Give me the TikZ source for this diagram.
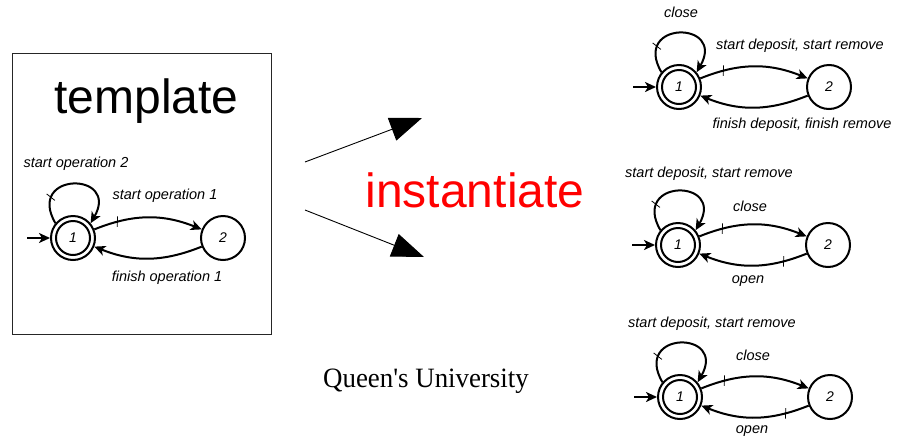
\documentclass[tikz,border=0pt]{standalone}
\usepackage{fontspec}
\newfontfamily\labelfont{Liberation Sans}
\newfontfamily\titlefont{Liberation Serif}
\usetikzlibrary{arrows.meta,decorations.markings}

\tikzset{
  state/.style={circle,draw,line width=2pt,minimum size=44pt,inner sep=0pt,
    font=\labelfont\itshape\fontsize{14}{14}\selectfont},
  edge/.style={line width=2pt,-{Stealth[length=11pt,width=10pt,inset=3pt]}},
  tick/.style={postaction={decorate},decoration={markings,
    mark=at position #1 with {\draw[-,line width=0.8pt] (-1.5pt,-5pt) -- (1.5pt,5pt);}}},
  evlabel/.style={font=\labelfont\itshape\fontsize{14.5}{16}\selectfont,inner sep=0pt,
    text height=10.5pt,text depth=3pt},
  bigarrow/.style={line width=0.9pt,-{Triangle[length=32pt,width=24pt]}},
  frame/.style={draw=black!85,line width=1pt},
}

% two-state automaton: #1 name prefix, #2/#3 position of state 1, #4 extra style of the return edge
\newcommand\automaton[4]{%
  \node[state] (#1one) at (#2,#3) {1};
  \draw[line width=2pt] (#1one.center) circle[radius=17pt];
  \node[state] (#1two) at (#2+150,#3) {2};
  \coordinate (#1init) at (#2-46,#3);
  \draw[edge] (#1init) -- (#1one);
  \draw[edge,tick=0.25] (#1one.140) .. controls +(120:60pt) and +(60:60pt) .. (#1one.40);
  \draw[edge,tick=0.22] (#1one) to[bend left=22] (#1two);
  \draw[edge,#4] (#1two) to[bend left=22] (#1one);
}

\begin{document}
\begin{tikzpicture}[x=1pt,y=-1pt]
  \useasboundingbox (0,0) rectangle (900,437);

  % template frame
  \draw[frame] (12,53) rectangle (271,334);
  \node[anchor=base,inner sep=0pt,font=\labelfont\fontsize{48}{48}\selectfont] (title) at (146.5,113) {template};

  \automaton{t}{73}{238}{}
  \node[evlabel] (tloop) at (76,164) {start operation 2};
  \node[evlabel] (tup) at (165,196) {start operation 1};
  \node[evlabel] (tdown) at (167,278) {finish operation 1};

  % instantiation arrows
  \coordinate (a1s) at (305,162);
  \coordinate (a1e) at (422,118);
  \coordinate (a2s) at (305,210);
  \coordinate (a2e) at (424,257);
  \draw[bigarrow] (a1s) -- (a1e);
  \draw[bigarrow] (a2s) -- (a2e);
  \node[anchor=base,inner sep=0pt,text=red,font=\labelfont\fontsize{48}{48}\selectfont] (inst) at (475,207) {instantiate};

  \node[anchor=base,inner sep=0pt,xscale=0.96,font=\titlefont\fontsize{28}{28}\selectfont] (uni) at (426,387) {Queen's University};

  % first instance
  \automaton{a}{679}{87}{}
  \node[evlabel] (aloop) at (681,14) {close};
  \node[evlabel] (aup) at (800,46) {start deposit, start remove};
  \node[evlabel] (adown) at (802,125) {finish deposit, finish remove};

  % second instance
  \automaton{b}{678}{245}{tick=0.22}
  \node[evlabel] (bloop) at (709,174) {start deposit, start remove};
  \node[evlabel] (bup) at (750,208) {close};
  \node[evlabel] (bdown) at (748,280) {open};

  % third instance
  \automaton{c}{680}{397}{tick=0.22}
  \node[evlabel] (cloop) at (712,324) {start deposit, start remove};
  \node[evlabel] (cup) at (753,357) {close};
  \node[evlabel] (cdown) at (752,430) {open};
\end{tikzpicture}
\end{document}
